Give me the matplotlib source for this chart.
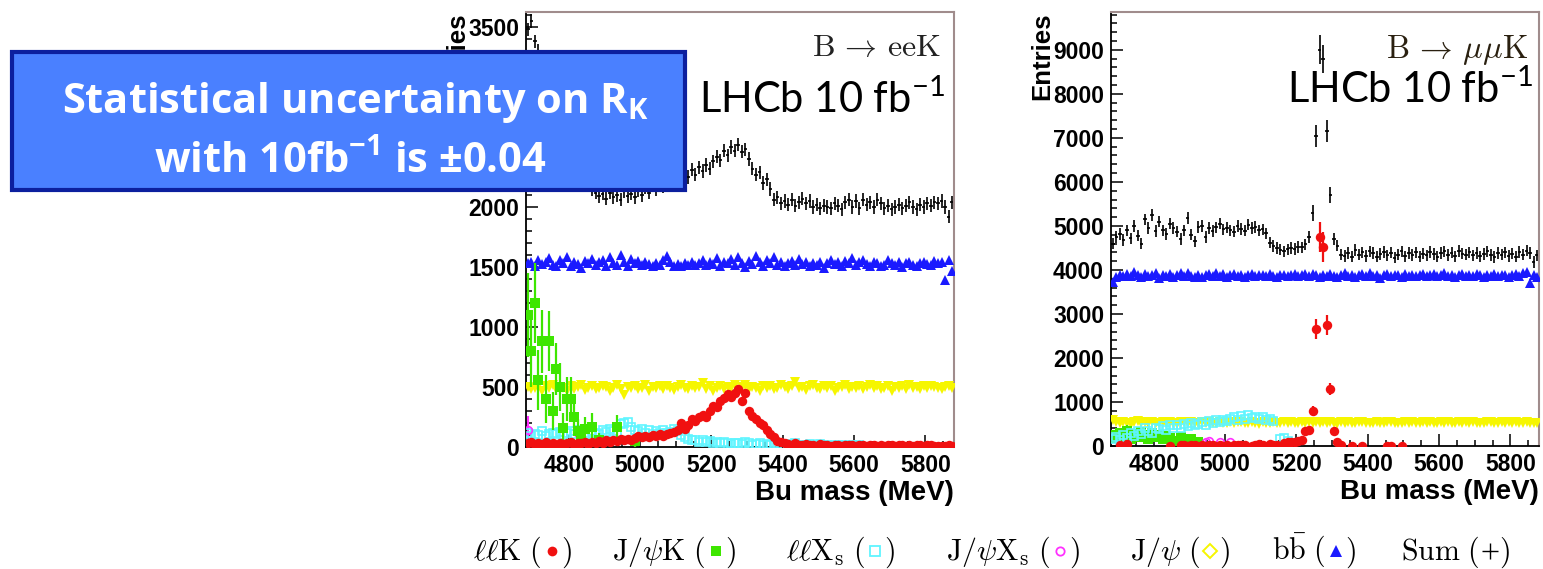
import numpy as np
import matplotlib.pyplot as plt
from matplotlib.patches import Rectangle
from matplotlib.lines import Line2D
from matplotlib.ticker import MultipleLocator

plt.rcParams['mathtext.fontset'] = 'custom'
plt.rcParams['mathtext.rm'] = 'Lato'
plt.rcParams['mathtext.bf'] = 'Open Sans:bold'

# 10 MeV bins from 4680 to 5880 MeV
mass = np.arange(4685, 5880, 10)

# ---------------- B -> eeK ----------------
sum_ee = [3480, 3550, 3380, 3300, 3150, 3020, 2900, 2810, 2700, 2640,
          2560, 2480, 2420, 2350, 2300, 2260, 2230, 2190, 2150, 2120,
          2090, 2110, 2070, 2120, 2080, 2100, 2060, 2130, 2090, 2110,
          2080, 2140, 2100, 2160, 2120, 2180, 2150, 2200, 2170, 2210,
          2190, 2230, 2260, 2220, 2290, 2250, 2310, 2270, 2330, 2300,
          2350, 2320, 2380, 2420, 2390, 2470, 2430, 2500, 2470, 2520,
          2460, 2480, 2400, 2320, 2270, 2290, 2200, 2230, 2150, 2060,
          2080, 2030, 2050, 2020, 2060, 2010, 2040, 2070, 2030, 2050,
          2000, 2020, 1990, 2010, 2000, 1990, 2030, 2010, 1980, 2040,
          2060, 2000, 2050, 1990, 2060, 2020, 2040, 2000, 2060, 2030,
          1990, 2010, 1980, 2000, 2020, 1990, 2010, 2040, 2000, 1980,
          2020, 2000, 2030, 2010, 2040, 2030, 2050, 2000, 1920, 2040]
sum_ee_err = 55

bb_ee = [1530, 1545, 1510, 1560, 1525, 1540, 1575, 1520, 1505, 1555,
         1535, 1580, 1510, 1540, 1525, 1495, 1550, 1530, 1570, 1515,
         1540, 1560, 1505, 1580, 1535, 1520, 1600, 1545, 1510, 1565,
         1530, 1550, 1515, 1540, 1525, 1505, 1535, 1520, 1560, 1590,
         1545, 1510, 1525, 1505, 1535, 1520, 1545, 1515, 1530, 1555,
         1520, 1540, 1525, 1575, 1510, 1545, 1530, 1565, 1520, 1580,
         1535, 1500, 1550, 1525, 1595, 1540, 1510, 1560, 1530, 1585,
         1520, 1545, 1505, 1535, 1550, 1515, 1570, 1525, 1540, 1510,
         1535, 1520, 1545, 1490, 1530, 1560, 1525, 1540, 1505, 1550,
         1530, 1575, 1515, 1540, 1560, 1525, 1505, 1545, 1530, 1510,
         1520, 1555, 1535, 1515, 1545, 1500, 1530, 1540, 1520, 1510,
         1535, 1545, 1525, 1515, 1550, 1530, 1540, 1390, 1560, 1470]

jpsi_ee = [500, 480, 495, 510, 470, 505, 490, 515, 480, 500,
           495, 470, 510, 485, 500, 520, 475, 495, 505, 480,
           490, 510, 500, 470, 495, 515, 485, 430, 500, 490,
           505, 480, 495, 520, 470, 500, 490, 510, 485, 505,
           495, 475, 500, 520, 490, 480, 510, 495, 500, 530,
           485, 505, 470, 495, 510, 480, 500, 490, 520, 475,
           500, 515, 485, 500, 495, 470, 510, 490, 505, 480,
           495, 520, 500, 485, 510, 545, 490, 500, 475, 505,
           520, 495, 480, 510, 490, 505, 470, 495, 500, 515,
           480, 500, 495, 510, 485, 500, 520, 490, 505, 480,
           495, 510, 470, 500, 490, 505, 485, 515, 495, 500,
           480, 505, 490, 510, 500, 495, 485, 500, 510, 495]

llk_ee = [30, 45, 20, 35, 25, 40, 15, 30, 20, 35,
          25, 30, 40, 20, 35, 30, 45, 25, 40, 30,
          50, 35, 55, 45, 60, 50, 65, 55, 70, 60,
          75, 90, 80, 95, 85, 100, 90, 110, 95, 105,
          120, 125, 140, 200, 150, 180, 230, 220, 250, 270,
          250, 300, 340, 330, 380, 410, 440, 420, 450, 480,
          380, 450, 300, 260, 230, 200, 180, 140, 110, 80,
          50, 40, 30, 25, 20, 30, 15, 20, 25, 15,
          20, 10, 25, 15, 20, 10, 15, 20, 10, 15,
          20, 15, 10, 20, 15, 10, 20, 15, 10, 15,
          10, 20, 15, 10, 15, 20, 10, 15, 10, 20,
          15, 10, 20, 15, 10, 5, 10, 5, 15, 10]

jpsik_ee_x = [4685, 4695, 4705, 4715, 4725, 4735, 4745, 4755, 4765, 4775,
              4785, 4795, 4805, 4815, 4825, 4835, 4845, 4865, 4885, 4935, 4985]
jpsik_ee = [1100, 800, 1200, 560, 880, 400, 880, 300, 650, 500,
            160, 400, 400, 250, 130, 100, 150, 170, 60, 170, 50]
jpsik_ee_err = [350, 300, 330, 250, 260, 200, 250, 160, 220, 200,
                120, 180, 180, 150, 100, 80, 100, 110, 60, 100, 50]

llxs_ee = [120, 90, 110, 100, 130, 95, 110, 120,
           105, 125, 100, 115, 130, 110, 140, 120, 100, 115,
           130, 120, 110, 140, 125, 150, 135, 120, 190, 200,
           210, 170, 140, 130, 150, 120, 140, 110, 130, 120,
           140, 115, 125, 150, 130, 100, 80, 70, 60, 55,
           45, 60, 40, 50, 35, 45, 30, 40, 35, 25,
           30, 35, 25, 40, 30, 20, 25, 30, 20, 25,
           20, 30, 25, 20, 15, 25, 20, 30, 15, 20,
           20, 25, 15, 20, 25, 15, 20, 10, 15, 20,
           15, 10, 20, 15, 10, 15]

jpsixs_ee_x = [4685, 4825]
jpsixs_ee = [140, 120]
jpsixs_ee_err = [120, 50]

# ---------------- B -> mumuK ----------------
sum_mm = [4600, 4750, 4820, 4680, 4900, 4720, 5000, 4780, 4600, 5150,
          4950, 5250, 4880, 5100, 4900, 4820, 5050, 4950, 4870, 4700,
          4900, 5180, 4800, 4650, 4980, 5000, 4750, 4950, 4880, 4970,
          5050, 4920, 4960, 4900, 4870, 5000, 4930, 4890, 5030, 4950,
          4980, 4900, 4920, 4830, 4620, 4540, 4500, 4460, 4420, 4470,
          4500, 4480, 4520, 4510, 4580, 4750, 5300, 7050, 9000, 8800,
          7150, 5700, 4700, 4550, 4350, 4320, 4380, 4300, 4450, 4350,
          4400, 4320, 4420, 4380, 4300, 4360, 4410, 4330, 4390, 4280,
          4350, 4420, 4310, 4380, 4340, 4400, 4300, 4370, 4330, 4410,
          4360, 4300, 4380, 4420, 4340, 4390, 4310, 4430, 4370, 4350,
          4400, 4330, 4380, 4310, 4360, 4420, 4340, 4290, 4380, 4350,
          4400, 4320, 4370, 4300, 4410, 4350, 4440, 4380, 4180, 4330]
sum_mm_err = np.full(120, 130.0)
sum_mm_err[56:62] = [180, 250, 330, 320, 250, 180]

bb_mm = [3720, 3850, 3880, 3860, 3900, 3870, 3950, 3880, 3840, 3910,
         3870, 3890, 3930, 3820, 3880, 3860, 3900, 3850, 3880, 3920,
         3860, 3940, 3870, 3850, 3890, 3830, 3880, 3900, 3860, 3930,
         3870, 3900, 3850, 3880, 3910, 3860, 3890, 3850, 3880, 3900,
         3870, 3890, 3880, 3860, 3900, 3870, 3840, 3880, 3890, 3870,
         3880, 3900, 3860, 3890, 3910, 3870, 3900, 3880, 3850, 3890,
         3860, 3900, 3870, 3850, 3880, 3920, 3860, 3890, 3850, 3880,
         3900, 3870, 3930, 3860, 3890, 3820, 3880, 3900, 3860, 3890,
         3880, 3850, 3900, 3870, 3890, 3860, 3880, 3910, 3870, 3890,
         3900, 3860, 3880, 3920, 3870, 3890, 3850, 3880, 3900, 3870,
         3890, 3860, 3910, 3880, 3850, 3890, 3870, 3900, 3860, 3880,
         3890, 3850, 3880, 3900, 3860, 3920, 3960, 3700, 3880, 3850]

jpsi_mm = [580, 540, 520, 550, 530, 510, 545, 560, 525, 535,
           520, 550, 530, 515, 540, 525, 555, 530, 510, 540,
           535, 520, 545, 530, 515, 540, 525, 550, 530, 520,
           545, 530, 515, 540, 525, 535, 550, 520, 530, 545,
           525, 510, 540, 530, 520, 545, 530, 515, 535, 525,
           540, 520, 530, 550, 525, 535, 515, 540, 530, 545,
           520, 535, 530, 510, 540, 525, 545, 530, 520, 535,
           550, 525, 530, 515, 540, 530, 520, 545, 535, 525,
           530, 515, 540, 525, 550, 530, 520, 535, 525, 545,
           530, 520, 540, 515, 535, 530, 525, 545, 520, 535,
           530, 540, 515, 530, 525, 550, 535, 520, 530, 540,
           525, 535, 520, 545, 530, 515, 540, 525, 530, 520]

llk_mm_x = [4705, 4725, 4845, 4875, 4885, 4895, 4905, 4915, 4935, 4945,
            4955, 4965, 4985, 4995, 5005, 5025, 5035, 5045, 5055, 5075,
            5085, 5095, 5105, 5125, 5135, 5145, 5165, 5175, 5185, 5195,
            5205, 5215, 5225, 5235, 5245, 5255, 5265, 5275, 5285, 5295,
            5305, 5315, 5325, 5355, 5385, 5455, 5465, 5495]
llk_mm = [30, 40, 10, 20, 15, 10, 25, 20, 15, 10,
          20, 15, 25, 10, 20, 30, 15, 20, 25, 10,
          30, 40, 20, 35, 25, 15, 60, 80, 90, 100,
          110, 140, 330, 360, 800, 2660, 4750, 4520, 2750, 1300,
          330, 100, 20, 10, 10, 10, 10, 10]
llk_mm_err = [20, 20, 10, 15, 10, 10, 15, 15, 10, 10,
              15, 10, 15, 10, 15, 20, 10, 15, 15, 10,
              20, 20, 15, 20, 15, 10, 30, 40, 40, 40,
              40, 50, 70, 80, 110, 220, 350, 350, 230, 140,
              60, 30, 10, 10, 10, 10, 10, 10]

jpsik_mm_x = [4685, 4695, 4705, 4715, 4725, 4735, 4745, 4755, 4765, 4775,
              4785, 4795, 4805, 4815, 4825, 4835, 4845, 4855, 4875, 4905, 4925]
jpsik_mm = [250, 180, 300, 220, 350, 150, 280, 200, 320, 240,
            170, 300, 210, 260, 150, 230, 180, 120, 200, 150, 100]
jpsik_mm_err = [110, 90, 110, 100, 120, 80, 110, 90, 110, 100,
                80, 110, 90, 100, 80, 90, 80, 70, 90, 80, 60]

llxs_mm_x = [4685, 4695, 4705, 4715, 4725, 4735, 4745, 4755, 4765, 4775,
             4785, 4795, 4805, 4815, 4825, 4835, 4845, 4855, 4865, 4875,
             4885, 4895, 4905, 4915, 4925, 4935, 4945, 4955, 4965, 4975,
             4985, 4995, 5005, 5015, 5025, 5035, 5045, 5055, 5065, 5075,
             5085, 5095, 5105, 5115, 5125, 5135, 5155, 5165, 5175]
llxs_mm = [150, 200, 130, 250, 180, 300, 220, 350, 280, 400,
           330, 300, 420, 380, 450, 360, 470, 420, 480, 400,
           500, 450, 520, 470, 500, 540, 480, 560, 520, 580,
           540, 600, 560, 620, 650, 600, 680, 620, 700, 640,
           660, 610, 650, 580, 620, 560, 150, 180, 120]

jpsixs_mm_x = [4945, 4955, 4985, 5015]
jpsixs_mm = [100, 110, 90, 80]

W, H = 1543, 569
fig = plt.figure(figsize=(W / 100, H / 100), dpi=100)
fig.patch.set_facecolor('white')

ax1 = fig.add_axes([526 / W, 122 / H, 428 / W, 435 / H])
ax2 = fig.add_axes([1111 / W, 123 / H, 428 / W, 434 / H])

RED, GREEN, CYAN, MAG, YEL, BLUE = '#f01010', '#3ee600', '#5ff5ff', '#ff30ff', '#f6f600', '#1a1aff'


def style_axes(ax, ymax, ymajor, yminor):
    ax.set_xlim(4680, 5880)
    ax.set_ylim(0, ymax)
    ax.xaxis.set_major_locator(MultipleLocator(200))
    ax.xaxis.set_minor_locator(MultipleLocator(50))
    ax.yaxis.set_major_locator(MultipleLocator(ymajor))
    ax.yaxis.set_minor_locator(MultipleLocator(yminor))
    ax.tick_params(which='both', direction='in', top=False, right=False, width=1.1, color='black')
    ax.tick_params(which='major', length=8.5, pad=5)
    ax.tick_params(which='minor', length=4.3)
    for lab in ax.get_xticklabels() + ax.get_yticklabels():
        lab.set_fontfamily('Liberation Sans')
        lab.set_fontweight('bold')
        lab.set_fontsize(16.5)
    for s in ['top', 'right']:
        ax.spines[s].set_color('#a08c8c')
        ax.spines[s].set_linewidth(1.5)
    for s in ['left', 'bottom']:
        ax.spines[s].set_color('black')
        ax.spines[s].set_linewidth(1.3)
    ax.set_xlabel('Bu mass (MeV)', fontfamily='Liberation Sans', fontweight='bold', fontsize=20)
    ax.xaxis.set_label_coords(1.0, -0.076)
    ax.xaxis.label.set_horizontalalignment('right')
    ax.set_ylabel('Entries', fontfamily='Liberation Sans', fontweight='bold', fontsize=18.5)
    ax.yaxis.set_label_coords(-0.133, 1.0)
    ax.yaxis.label.set_horizontalalignment('right')


# left panel
ax1.errorbar(mass, sum_ee, yerr=sum_ee_err, xerr=5, fmt='none', ecolor='black', elinewidth=1.2, zorder=2)
ax1.plot(mass, bb_ee, '^', color=BLUE, ms=6.5, mew=0, zorder=3)
ax1.plot(mass, jpsi_ee, 'v', color=YEL, ms=7, mew=0, zorder=3)
ax1.errorbar(jpsixs_ee_x, jpsixs_ee, yerr=jpsixs_ee_err, fmt='o', mfc='none', mec=MAG, ecolor=MAG, ms=5.5, mew=1.2, zorder=4)
ax1.plot(mass[:len(llxs_ee)], llxs_ee, 's', mfc='none', mec=CYAN, ms=5.5, mew=1.2, zorder=4)
ax1.errorbar(jpsik_ee_x, jpsik_ee, yerr=jpsik_ee_err, fmt='s', color=GREEN, ecolor=GREEN, ms=6.5, mew=0, elinewidth=1.6, zorder=5)
ax1.errorbar(mass, llk_ee, yerr=15, fmt='o', color=RED, ecolor=RED, ms=6.8, mew=0, zorder=6)
style_axes(ax1, 3625, 500, 100)

# right panel
ax2.errorbar(mass, sum_mm, yerr=sum_mm_err, xerr=5, fmt='none', ecolor='black', elinewidth=1.2, zorder=2)
ax2.plot(mass, bb_mm, '^', color=BLUE, ms=6.5, mew=0, zorder=3)
ax2.plot(mass, jpsi_mm, 'v', color=YEL, ms=7, mew=0, zorder=3)
ax2.errorbar(jpsik_mm_x, jpsik_mm, yerr=jpsik_mm_err, fmt='s', color=GREEN, ecolor=GREEN, ms=6.5, mew=0, elinewidth=1.6, zorder=4)
ax2.plot(llxs_mm_x, llxs_mm, 's', mfc='none', mec=CYAN, ms=5.5, mew=1.2, zorder=5)
ax2.plot(jpsixs_mm_x, jpsixs_mm, 'o', mfc='none', mec=MAG, ms=5.5, mew=1.2, zorder=5)
ax2.errorbar(llk_mm_x, llk_mm, yerr=llk_mm_err, fmt='o', color=RED, ecolor=RED, ms=6.8, mew=0, elinewidth=1.6, zorder=6)
style_axes(ax2, 9860, 1000, 200)

# decay labels
ax1.text(0.970, 0.899, r'$\mathrm{B}\,\rightarrow\,\mathrm{eeK}$', transform=ax1.transAxes,
         ha='right', va='baseline', fontsize=23, math_fontfamily='cm', color='#222222')
ax2.text(0.974, 0.894, r'$\mathrm{B}\,\rightarrow\,\mu\mu\mathrm{K}$', transform=ax2.transAxes,
         ha='right', va='baseline', fontsize=23.5, math_fontfamily='cm', color='#2a2010')
ax1.text(0.979, 0.768, r'LHCb 10 fb$^{\mathrm{-1}}$', transform=ax1.transAxes, ha='right',
         va='baseline', fontsize=30, fontfamily='Lato', math_fontfamily='custom')
ax2.text(0.986, 0.790, r'LHCb 10 fb$^{\mathrm{-1}}$', transform=ax2.transAxes, ha='right',
         va='baseline', fontsize=30, fontfamily='Lato', math_fontfamily='custom')

# blue call-out box
fig.add_artist(Rectangle((12 / W, 379 / H), 673 / W, 138 / H, transform=fig.transFigure,
                         facecolor='#4a80ff', edgecolor='#0c1f9e', lw=3, zorder=10))
fig.text(356 / W, (H - 113) / H, r'Statistical uncertainty on R$_{\mathbf{K}}$', ha='center',
         va='baseline', color='white', fontsize=30, fontfamily='Open Sans', fontweight='bold',
         math_fontfamily='custom', zorder=11)
fig.text(350 / W, (H - 173) / H, r'with 10fb$^{\mathbf{-1}}$ is ±0.04', ha='center',
         va='baseline', color='white', fontsize=30, fontfamily='Open Sans', fontweight='bold',
         math_fontfamily='custom', zorder=11)

# legend strip
leg_x = [473, 612, 786, 946, 1130, 1272, 1401]
leg_labels = [r'$\ell\ell\mathrm{K}\ ($', r'$\mathrm{J}/\psi\mathrm{K}\ ($',
              r'$\ell\ell\mathrm{X}_\mathrm{s}\ ($', r'$\mathrm{J}/\psi\mathrm{X}_\mathrm{s}\ ($',
              r'$\mathrm{J}/\psi\ ($', r'$\mathrm{b\bar{b}}\ ($', r'$\mathrm{Sum}\ ($']
leg_styles = [dict(marker='o', color=RED, ms=7, mew=0),
              dict(marker='s', color=GREEN, ms=7, mew=0),
              dict(marker='s', mfc='none', mec=CYAN, ms=7, mew=1.3),
              dict(marker='o', mfc='none', mec=MAG, ms=6, mew=1.3),
              dict(marker='D', mfc='none', mec=YEL, ms=7, mew=1.4),
              dict(marker='^', color=BLUE, ms=8, mew=0),
              dict(marker='+', color='black', ms=11, mew=1.0)]

fig.canvas.draw()
rend = fig.canvas.get_renderer()
for x0, lab, st in zip(leg_x, leg_labels, leg_styles):
    t = fig.text(x0 / W, 9 / H, lab, fontsize=21.5, math_fontfamily='cm', va='baseline')
    bb = t.get_window_extent(rend)
    fig.add_artist(Line2D([(bb.x1 + 10) / W], [18 / H], transform=fig.transFigure, ls='none', **st))
    fig.text((bb.x1 + 19) / W, 9 / H, r'$)$', fontsize=21.5, math_fontfamily='cm', va='baseline')

fig.savefig('out.png', dpi=100)
